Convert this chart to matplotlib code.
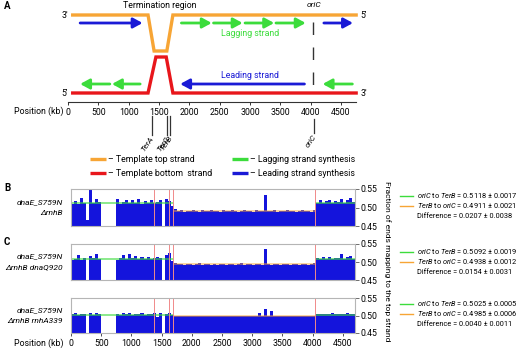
import numpy as np
import matplotlib
matplotlib.use('Agg')
import matplotlib.pyplot as plt

plt.rcParams['font.family'] = ['Roboto', 'DejaVu Sans']
plt.rcParams['mathtext.fontset'] = 'custom'
plt.rcParams['mathtext.rm'] = 'Roboto'
plt.rcParams['mathtext.it'] = 'Roboto:italic'

########################### data
ter_names = ['TerA', 'TerC', 'TerB']
ter_kb = [1380, 1630, 1690]
oric_kb = 4040
xticks_kb = list(range(0, 4501, 500))
bin_kb = np.arange(0, 4700, 50)          # 50 kb bins
nan = np.nan

# B: dnaE_S759N ΔrnhB
b_left = [0.510, 0.517, 0.509, 0.526, 0.511, 0.466, 0.549, 0.512, 0.522, 0.514,
          nan, nan, nan, nan, nan,
          0.524, 0.510, 0.516, 0.521, 0.511, 0.519, 0.513, 0.523, 0.510, 0.517,
          0.512, 0.520, 0.513, 0.514, 0.520, nan, 0.524, 0.517, 0.505]
b_mid = [0.496, 0.490, 0.492, 0.489, 0.491, 0.490, 0.492, 0.491, 0.489, 0.492,
         0.490, 0.491, 0.493, 0.490, 0.491, 0.489, 0.492, 0.490, 0.491, 0.492,
         0.490, 0.489, 0.491, 0.492, 0.490, 0.491, 0.489, 0.492, 0.491, 0.490,
         0.533, 0.491, 0.490, 0.492, 0.489, 0.491, 0.490, 0.492, 0.491, 0.490,
         0.489, 0.491, 0.492, 0.490, 0.491, 0.489, 0.494]
b_right = [0.513, 0.519, 0.511, 0.517, 0.521, 0.512, 0.518, 0.515, 0.522, 0.513,
           0.519, 0.525, 0.514]

# C top: dnaE_S759N ΔrnhB dnaQ920
c1_left = [0.506, 0.509, 0.519, 0.505, 0.511, nan, 0.516, 0.512, 0.521, 0.508,
           nan, nan, nan, nan, nan,
           0.506, 0.511, 0.519, 0.508, 0.523, 0.512, 0.517, 0.509, 0.514, 0.507,
           0.513, 0.508, 0.512, 0.515, 0.511, nan, 0.519, 0.524, 0.503]
c1_mid = [0.497, 0.494, 0.495, 0.493, 0.494, 0.495, 0.493, 0.494, 0.496, 0.493,
          0.494, 0.495, 0.493, 0.494, 0.492, 0.495, 0.494, 0.493, 0.495, 0.494,
          0.493, 0.494, 0.496, 0.493, 0.494, 0.495, 0.493, 0.494, 0.495, 0.493,
          0.536, 0.494, 0.493, 0.495, 0.494, 0.493, 0.495, 0.494, 0.492, 0.494,
          0.495, 0.493, 0.494, 0.495, 0.493, 0.494, 0.496]
c1_right = [0.511, 0.507, 0.513, 0.509, 0.515, 0.508, 0.512, 0.510, 0.521, 0.509,
            0.514, 0.518, 0.507]

# C bottom: dnaE_S759N ΔrnhB rnhA339
c2_left = [0.503, 0.507, 0.502, 0.505, 0.503, nan, 0.506, 0.502, 0.507, 0.503,
           nan, nan, nan, nan, nan,
           0.504, 0.502, 0.506, 0.503, 0.508, 0.502, 0.505, 0.503, 0.507, 0.502,
           0.505, 0.503, 0.508, 0.497, 0.506, nan, 0.504, 0.508, 0.501]
c2_mid = [0.499, 0.498, 0.499, 0.498, 0.499, 0.498, 0.500, 0.498, 0.499, 0.498,
          0.499, 0.498, 0.499, 0.500, 0.498, 0.499, 0.498, 0.499, 0.498, 0.499,
          0.498, 0.499, 0.498, 0.500, 0.498, 0.499, 0.498, 0.499, 0.507, 0.499,
          0.518, 0.499, 0.512, 0.499, 0.498, 0.499, 0.498, 0.499, 0.498, 0.500,
          0.498, 0.499, 0.498, 0.499, 0.498, 0.499, 0.499]
c2_right = [0.504, 0.503, 0.505, 0.503, 0.504, 0.506, 0.503, 0.505, 0.504, 0.503,
            0.506, 0.504, 0.503]

strain_top = 'dnaE_S759N'
strain_bottom = ['ΔrnhB', 'ΔrnhB dnaQ920', 'ΔrnhB rnhA339']
ori_ter_mean = [0.5118, 0.5092, 0.5025]
ori_ter_err = [0.0017, 0.0019, 0.0005]
ter_ori_mean = [0.4911, 0.4938, 0.4985]
ter_ori_err = [0.0021, 0.0012, 0.0006]
diff_mean = [0.0207, 0.0154, 0.0040]
diff_err = [0.0038, 0.0031, 0.0011]

# schematic strands (kb) and arrows (tail, head) in panel A
strand_top_kb = [50, 1320, 1420, 1630, 1730, 4780]
strand_bot_kb = [50, 1320, 1450, 1620, 1730, 4780]
top_lagging = [(1870, 2370), (2400, 2880), (2920, 3400), (3430, 3920)]
top_leading = [(200, 1230), (4220, 4700)]
bot_lagging = [(1190, 725), (690, 200), (4690, 4200)]
bot_leading = [(3900, 1850)]

ORANGE = '#f7a535'
RED = '#e8161b'
GREEN = '#3cdc3c'
BLUE = '#1a1ad6'
BAR = '#1414dc'
PINK = '#f08a8a'

W, H = 520, 349
fig = plt.figure(figsize=(5.2, 3.49), dpi=100)

def px_axes(l, t, r, b):
    return fig.add_axes([l / W, 1 - b / H, (r - l) / W, (b - t) / H])

# overlay in pixel coordinates for loose text
ov = fig.add_axes([0, 0, 1, 1])
ov.set_xlim(0, W)
ov.set_ylim(H, 0)
ov.axis('off')

########################### panel A
ax = px_axes(68, 0, 356, 102)
ax.set_xlim(0, 4750)
ax.set_ylim(102, 0)
for s in ['top', 'left', 'right']:
    ax.spines[s].set_visible(False)
ax.spines['bottom'].set_color('#333333')
ax.spines['bottom'].set_linewidth(0.8)
ax.set_yticks([])
ax.set_xticks(xticks_kb)
ax.tick_params(axis='x', length=2.5, width=0.7, labelsize=6.3, pad=1.5, color='#333333')
ax.patch.set_alpha(0)

ax.plot(strand_top_kb, [15, 15, 51, 51, 15, 15], color=ORANGE, lw=2.4,
        solid_joinstyle='miter', solid_capstyle='butt', clip_on=False)
ax.plot(strand_bot_kb, [93, 93, 57, 57, 93, 93], color=RED, lw=2.4,
        solid_joinstyle='miter', solid_capstyle='butt', clip_on=False)

def arrow(tail, head, y, color):
    ax.annotate('', xy=(head, y), xytext=(tail, y), annotation_clip=False,
                arrowprops=dict(arrowstyle='-|>,head_length=0.55,head_width=0.3',
                                color=color, lw=2.0, shrinkA=0, shrinkB=0,
                                mutation_scale=10))

for t, h in top_lagging:
    arrow(t, h, 23, GREEN)
for t, h in top_leading:
    arrow(t, h, 23, BLUE)
for t, h in bot_lagging:
    arrow(t, h, 84, GREEN)
for t, h in bot_leading:
    arrow(t, h, 84, BLUE)

ax.plot([oric_kb, oric_kb], [22, 85], color='#333333', lw=1, linestyle=(0, (9, 9)))

ax.text(1520, 5, 'Termination region', ha='center', va='center', fontsize=6.3)
ax.text(oric_kb + 20, 5, 'oriC', ha='center', va='center', fontsize=6, style='italic')
ax.text(3000, 34, 'Lagging strand', ha='center', va='center', fontsize=6.3, color=GREEN)
ax.text(3000, 76, 'Leading strand', ha='center', va='center', fontsize=6.3, color=BLUE)

# ter / oriC markers below the axis
for name, x in zip(ter_names, ter_kb):
    ax.plot([x, x], [116, 135], color='#333333', lw=0.9, clip_on=False)
    ax.text(x + 15, 137, name, rotation=55, rotation_mode='anchor', ha='right',
            va='center', fontsize=5.8, style='italic', clip_on=False)
ax.plot([oric_kb + 20, oric_kb + 20], [119, 133], color='#333333', lw=0.9, clip_on=False)
ax.text(oric_kb + 35, 135, 'oriC', rotation=55, rotation_mode='anchor', ha='right',
        va='center', fontsize=5.8, style='italic', clip_on=False)

ov.text(65, 15, "3'", ha='center', va='center', fontsize=6.3)
ov.text(65, 93, "5'", ha='center', va='center', fontsize=6.3)
ov.text(364, 15, "5'", ha='center', va='center', fontsize=6.3)
ov.text(364, 93, "3'", ha='center', va='center', fontsize=6.3)
ov.text(63, 111, 'Position (kb)', ha='right', va='center', fontsize=6.3)
ov.text(4, 6, 'A', ha='left', va='center', fontsize=7, fontweight='bold')

# legend
legend_items = [(90, 159, ORANGE, '– Template top strand'),
                (90, 173, RED, '– Template bottom  strand'),
                (232, 159, GREEN, '– Lagging strand synthesis'),
                (232, 173, BLUE, '– Leading strand synthesis')]
for x, y, c, lab in legend_items:
    ov.plot([x, x + 16], [y, y], color=c, lw=2.4, solid_capstyle='butt')
    ov.text(x + 18, y, lab, ha='left', va='center', fontsize=6.3)

########################### panels B, C
panel_px = [(189, 226), (244, 280), (298, 333)]
panel_vals = [b_left + b_mid + b_right, c1_left + c1_mid + c1_right,
              c2_left + c2_mid + c2_right]
legend_rows = [(196, 206, 217), (252, 262, 272), (304, 314, 324)]

for k, (top, bot) in enumerate(panel_px):
    axp = px_axes(71, top, 355, bot)
    vals = np.array(panel_vals[k])
    axp.bar(bin_kb, vals - 0.45, bottom=0.45, width=50, align='edge', color=BAR, lw=0)
    axp.hlines(ori_ter_mean[k], 0, ter_kb[2], color=GREEN, lw=1.1, alpha=0.75)
    axp.hlines(ori_ter_mean[k], oric_kb, 4700, color=GREEN, lw=1.1, alpha=0.75)
    axp.hlines(ter_ori_mean[k], ter_kb[2], oric_kb, color=ORANGE, lw=1.1, alpha=0.6)
    for x in ter_kb + [oric_kb]:
        axp.axvline(x, color=PINK, lw=0.7)
    axp.set_xlim(0, 4700)
    axp.set_ylim(0.45, 0.55)
    for s in axp.spines.values():
        s.set_color('#b5b5b5')
        s.set_linewidth(0.8)
    axp.yaxis.tick_right()
    axp.set_yticks([0.45, 0.50, 0.55])
    axp.set_yticklabels(['0.45', '0.50', '0.55'])
    axp.tick_params(axis='y', length=3, width=0.6, color='#555555', labelsize=6.3, pad=1)
    if k < 2:
        axp.set_xticks([])
    else:
        axp.set_xticks(xticks_kb)
        axp.tick_params(axis='x', length=2.5, width=0.6, color='#333333', labelsize=6.3, pad=1.5)

    mid = (top + bot) / 2
    ov.text(63, mid - 5.5, strain_top, ha='right', va='center', fontsize=6, style='italic')
    ov.text(63, mid + 5.5, strain_bottom[k], ha='right', va='center', fontsize=6, style='italic')

    y1, y2, y3 = legend_rows[k]
    ov.plot([400, 413], [y1, y1], color=GREEN, lw=1)
    ov.plot([400, 413], [y2, y2], color=ORANGE, lw=1)
    ov.text(417, y1, r'$\mathit{oriC}$ to $\mathit{TerB}$ = %.4f ± %.4f' % (ori_ter_mean[k], ori_ter_err[k]),
            ha='left', va='center', fontsize=5.3)
    ov.text(417, y2, r'$\mathit{TerB}$ to $\mathit{oriC}$ = %.4f ± %.4f' % (ter_ori_mean[k], ter_ori_err[k]),
            ha='left', va='center', fontsize=5.3)
    ov.text(417, y3, 'Difference = %.4f ± %.4f' % (diff_mean[k], diff_err[k]),
            ha='left', va='center', fontsize=5.3)

ov.text(4, 188, 'B', ha='left', va='center', fontsize=7, fontweight='bold')
ov.text(4, 242, 'C', ha='left', va='center', fontsize=7, fontweight='bold')
ov.text(63, 343, 'Position (kb)', ha='right', va='center', fontsize=6.3)
ov.text(387, 261, 'Fraction of ends mapping to the top strand', rotation=270,
        ha='center', va='center', fontsize=6)

fig.savefig('out.png', dpi=100)
